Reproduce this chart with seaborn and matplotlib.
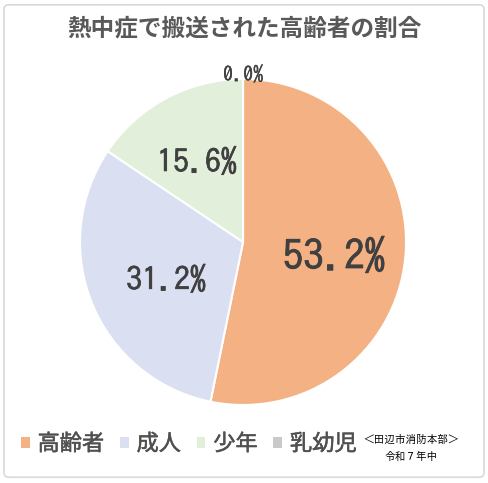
import numpy as np
import seaborn as sns
import matplotlib.pyplot as plt
import matplotlib.patheffects as pe
from matplotlib.patches import FancyBboxPatch

# data
categories = ['高齢者', '成人', '少年', '乳幼児']
shares = [53.2, 31.2, 15.6, 0.0]
pct_labels = ['53.2%', '31.2%', '15.6%', '0.0%']
colors = ['#F4B183', '#DAE0F2', '#E2EFDA', '#C9C9C9']

sns.set_theme(style='white')
plt.rcParams['font.family'] = ['Noto Sans CJK JP', 'DejaVu Sans']
num_font = ['IPAGothic', 'Noto Sans CJK JP']

fig = plt.figure(figsize=(4.88, 4.83), dpi=100)
fig.patches.append(FancyBboxPatch((0.008, 0.012), 0.984, 0.978, boxstyle='round,pad=0,rounding_size=0.01',
                                  transform=fig.transFigure, fill=False, edgecolor='#D9D9D9', linewidth=1.2))

ax = fig.add_axes([0.164, 0.1615, 0.668, 0.675])
wedges, _ = ax.pie(shares, colors=colors, startangle=90, counterclock=False, radius=1,
                   wedgeprops=dict(edgecolor='white', linewidth=1.5))
ax.set_xlim(-1, 1)
ax.set_ylim(-1, 1)
ax.set_aspect('equal')
ax.axis('off')

# percentage labels placed along each wedge's mid angle
dists = [0.56, 0.51, 0.6, 1.06]
sizes = [29.5, 23, 23, 14.5]
strokes = [0.6, 0.45, 0.45, 0.15]
for w, lab, d, s, lw in zip(wedges, pct_labels, dists, sizes, strokes):
    ang = np.deg2rad((w.theta1 + w.theta2) / 2)
    ax.text(d * np.cos(ang), d * np.sin(ang) - 0.03, lab, ha='center', va='center',
            fontsize=s, color='#404040', family=num_font,
            path_effects=[pe.withStroke(linewidth=lw, foreground='#404040')])

fig.text(0.5, 0.942, '熱中症で搬送された高齢者の割合', ha='center', va='center',
         fontsize=17, fontweight='bold', color='#595959')

leg = fig.legend(wedges, categories, loc='center left', bbox_to_anchor=(0.02, 0.081), ncol=4,
                 frameon=False, fontsize=16, handlelength=0.4, handleheight=0.4,
                 handletextpad=0.35, columnspacing=0.7, borderpad=0, labelcolor='#505050')
for h in leg.legend_handles:
    h.set_edgecolor('none')
for t in leg.get_texts():
    t.set_path_effects([pe.withStroke(linewidth=0.35, foreground='#505050')])

src_font = ['IPAGothic', 'Noto Sans CJK JP']
fig.text(0.843, 0.092, '＜田辺市消防本部＞', ha='center', va='center', fontsize=7.7, color='black',
         family=src_font)
fig.text(0.843, 0.055, '令和７年中', ha='center', va='center', fontsize=7.7, color='black',
         family=src_font)

fig.savefig('out.png', dpi=100)
